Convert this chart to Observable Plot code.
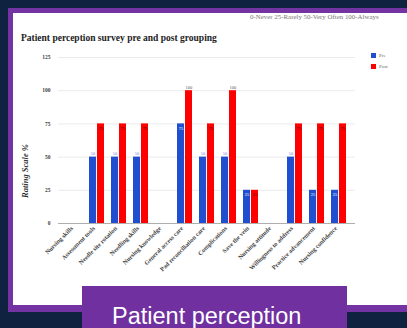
<!DOCTYPE html>
<html><head><meta charset="utf-8">
<script src="https://cdn.jsdelivr.net/npm/d3@7"></script>
<script src="https://cdn.jsdelivr.net/npm/@observablehq/plot@0.6"></script>
<style>
html,body{margin:0;padding:0;background:#0f2240;width:407px;height:328px;overflow:hidden;position:relative;}
#frame{position:absolute;left:8px;top:8px;width:420px;height:304px;background:#7433a3;}
#panel{position:absolute;left:13px;top:13px;width:400px;height:292px;background:#fff;}
#chart{position:absolute;left:0;top:0;}
.t{position:absolute;line-height:1;white-space:nowrap;font-family:"Liberation Serif",serif;}
#title{left:21px;top:33.5px;font-size:9.5px;font-weight:bold;color:#222;}
#note{left:250px;top:14px;font-size:6.9px;color:#777;}
#ylab{left:25px;top:171px;transform:translate(-50%,-50%) rotate(-90deg);font-size:8.5px;font-style:italic;font-weight:bold;color:#333;}
.sw{position:absolute;width:5px;height:4.5px;}
.lg{font-size:5px;color:#666;}
#tag{position:absolute;left:82px;top:286px;width:265px;height:42px;background:#7030a0;}
#tagtext{position:absolute;left:112px;top:305px;color:#fff;font-family:"Liberation Sans",Arial,sans-serif;font-size:23.5px;line-height:1;white-space:nowrap;}
</style>
</head><body>
<div id="frame"></div>
<div id="panel"></div>
<div id="chart"></div>
<div class="t" id="note">0-Never 25-Rarely 50-Very Often 100-Always</div>
<div class="t" id="title">Patient perception survey pre and post grouping</div>
<div class="t" id="ylab">Rating Scale %</div>
<div id="legend"></div>
<div id="tag"></div>
<div id="tagtext">Patient perception</div>
<script>
const categories = ["Nursing skills","Assessment tools","Needle site rotation","Needling skills","Nursing knowledge","General access care","Pad reconciliation care","Complications","Save the vein","Nursing attitude","Willingness to address","Practice advancement","Nursing confidence"];
const preValues  = [null,50,50,50,null,75,50,50,25,null,50,25,25];
const postValues = [null,75,75,75,null,100,75,100,25,null,75,75,75];
const seriesNames = ["Pre","Post"];
const seriesColors = ["#1f4fd0","#ff0000"];
const yTicks = [0,25,50,75,100,125];

const rows = categories.flatMap((c,i)=>[
  {cat:c, series:"Pre", value:preValues[i]},
  {cat:c, series:"Post", value:postValues[i]}
]).filter(d=>d.value!=null);
const pre = rows.filter(d=>d.series==="Pre");
const post = rows.filter(d=>d.series==="Post");

const W=407,H=328,mL=58,mR=52,mT=57,mB=105;
const step=(W-mL-mR)/categories.length, bw=step*0.7, half=bw/2;
const outside = d => d.series==="Pre" ? d.value===50 : d.value===100;

const chart = Plot.plot({
  width:W, height:H, marginLeft:mL, marginRight:mR, marginTop:mT, marginBottom:mB,
  style:{background:"transparent", fontFamily:"Liberation Serif, serif"},
  x:{domain:categories, paddingInner:0.3, paddingOuter:0.15, label:null},
  y:{domain:[0,125], label:null},
  marks:[
    Plot.ruleY(yTicks.filter(t=>t>0), {stroke:"#e6e6e6", strokeWidth:0.8}),
    Plot.ruleY([0], {stroke:"#9a9a9a", strokeWidth:0.8}),
    Plot.barY(pre, {x:"cat", y:"value", fill:seriesColors[0], insetRight:half}),
    Plot.barY(post, {x:"cat", y:"value", fill:seriesColors[1], insetLeft:half}),
    Plot.text(pre.filter(outside), {x:"cat", y:"value", text:d=>String(d.value), dx:-half/2, dy:-3.5, fontSize:4.5, fill:"#6a86d8"}),
    Plot.text(pre.filter(d=>!outside(d)), {x:"cat", y:"value", text:d=>String(d.value), dx:-half/2, dy:4.5, fontSize:4.5, fill:"#fff"}),
    Plot.text(post.filter(outside), {x:"cat", y:"value", text:d=>String(d.value), dx:half/2, dy:-3.5, fontSize:4.5, fill:"#555"}),
    Plot.text(post.filter(d=>!outside(d)), {x:"cat", y:"value", text:d=>String(d.value), dx:half/2, dy:4.5, fontSize:4.5, fill:"#400"}),
    Plot.axisY({ticks:yTicks, tickSize:0, tickPadding:8, fontSize:5.5, fontWeight:"bold", fill:"#444", label:null}),
    Plot.axisX({tickSize:0, tickPadding:4, tickRotate:-45, fontSize:6.2, fontWeight:"bold", fill:"#444", dx:-3, label:null})
  ]
});
document.getElementById("chart").appendChild(chart);

const lg = document.getElementById("legend");
seriesNames.forEach((s,i)=>{
  const sw=document.createElement("div"); sw.className="sw";
  sw.style.left="371px"; sw.style.top=(53+i*11)+"px"; sw.style.background=seriesColors[i];
  lg.appendChild(sw);
  const t=document.createElement("div"); t.className="t lg"; t.textContent=s;
  t.style.left="379px"; t.style.top=(53+i*11)+"px";
  lg.appendChild(t);
});
</script>
</body></html>
